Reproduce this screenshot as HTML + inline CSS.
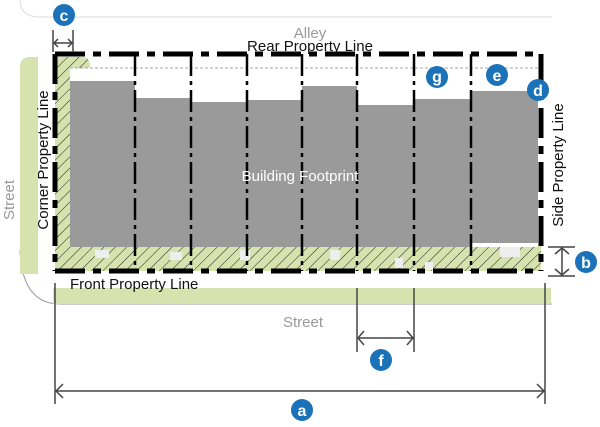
<!DOCTYPE html>
<html><head><meta charset="utf-8"><style>
html,body{margin:0;padding:0;background:#fff;}
svg{display:block;}
text{font-family:"Liberation Sans",sans-serif;}
</style></head><body>
<svg width="600" height="427" viewBox="0 0 600 427" xmlns="http://www.w3.org/2000/svg">
<defs>
<pattern id="h" width="8" height="8" patternUnits="userSpaceOnUse" patternTransform="rotate(45)">
<rect width="8" height="8" fill="#d6e3ae"/>
<line x1="0" y1="0" x2="0" y2="8" stroke="#222" stroke-width="1"/>
</pattern>
</defs>
<path d="M20,0 Q20,17 40,17 L552,17" fill="none" stroke="#ddd" stroke-width="1"/>
<path d="M20,250 Q22,304 60,304 L552,304" fill="none" stroke="#999" stroke-width="1"/>
<path d="M20,68 Q20,57 30,57 L38,57 L38,274 L20,274 Z" fill="#d6e3ae"/>
<rect x="53" y="288" width="498" height="16" fill="#d6e3ae"/>
<path d="M55,57 L82,57 Q90,57 90,66 L90,68 L70,68 L70,247 L538,247 L538,243 L541,243 L541,271 L55,271 Z" fill="url(#h)"/>
<g fill="#9a9a9a">
<rect x="70" y="81" width="65" height="166"/>
<rect x="135" y="98" width="56" height="149"/>
<rect x="191" y="102" width="56" height="145"/>
<rect x="247" y="100" width="55" height="147"/>
<rect x="302" y="86" width="55" height="161"/>
<rect x="357" y="105" width="57" height="142"/>
<rect x="414" y="99" width="57" height="148"/>
<rect x="471" y="91" width="67" height="152"/>
</g>
<g fill="#eee">
<rect x="95" y="250" width="14" height="8"/><rect x="170" y="252" width="12" height="8"/><rect x="240" y="250" width="10" height="10"/>
<rect x="330" y="250" width="10" height="10"/><rect x="395" y="258" width="8" height="10"/><rect x="425" y="262" width="8" height="8"/><rect x="500" y="247" width="20" height="10"/>
</g>
<line x1="70" y1="68" x2="538" y2="68" stroke="#aaa" stroke-width="1" stroke-dasharray="3 2"/>
<g stroke="#000" stroke-width="2.5" stroke-dasharray="22 5 4 5">
<line x1="135" y1="54" x2="135" y2="271"/><line x1="191" y1="54" x2="191" y2="271"/>
<line x1="247" y1="54" x2="247" y2="271"/><line x1="302" y1="54" x2="302" y2="271"/>
<line x1="357" y1="54" x2="357" y2="271"/><line x1="414" y1="54" x2="414" y2="271"/>
<line x1="471" y1="54" x2="471" y2="271"/>
</g>
<g stroke="#000" stroke-width="5" fill="none" stroke-dasharray="30 8 8 8">
<line x1="55" y1="54" x2="541" y2="54"/>
<line x1="55" y1="271" x2="541" y2="271"/>
<line x1="55" y1="54" x2="55" y2="271"/>
<line x1="541" y1="54" x2="541" y2="271"/>
</g>
<g stroke="#444" stroke-width="1.5" fill="none">
<line x1="55" y1="283" x2="55" y2="404"/><line x1="545" y1="283" x2="545" y2="404"/>
<line x1="56" y1="391" x2="544" y2="391"/>
<path d="M63,384 L56,391 L63,398 M537,384 L544,391 L537,398"/>
<line x1="357" y1="288" x2="357" y2="352"/><line x1="414" y1="288" x2="414" y2="352"/>
<line x1="358" y1="338" x2="413" y2="338"/>
<path d="M364,331 L358,338 L364,345 M407,331 L413,338 L407,345"/>
<line x1="548" y1="247" x2="575" y2="247"/><line x1="548" y1="276" x2="575" y2="276"/>
<line x1="562" y1="248" x2="562" y2="275"/>
<path d="M555,254 L562,248 L569,254 M555,269 L562,275 L569,269"/>
<line x1="53" y1="30" x2="53" y2="52"/><line x1="73" y1="30" x2="73" y2="52"/>
<line x1="54" y1="43" x2="72" y2="43"/>
<path d="M58,39 L54,43 L58,47 M68,39 L72,43 L68,47"/>
</g>
<text x="310" y="38" font-size="15" fill="#999" text-anchor="middle">Alley</text>
<text x="310" y="51" font-size="15" fill="#111" text-anchor="middle">Rear Property Line</text>
<text x="300" y="181" font-size="15" fill="#fff" text-anchor="middle">Building Footprint</text>
<text x="70" y="289" font-size="15" fill="#111">Front Property Line</text>
<text x="303" y="327" font-size="15" fill="#999" text-anchor="middle">Street</text>
<text transform="translate(48,160) rotate(-90)" font-size="15" fill="#111" text-anchor="middle">Corner Property Line</text>
<text transform="translate(14,200) rotate(-90)" font-size="15" fill="#999" text-anchor="middle">Street</text>
<text transform="translate(563,165) rotate(-90)" font-size="15" fill="#111" text-anchor="middle">Side Property Line</text>
<g fill="#1b72b8">
<circle cx="64" cy="15" r="11"/><circle cx="302" cy="410" r="11"/><circle cx="381" cy="360" r="11"/>
<circle cx="586" cy="262" r="11"/><circle cx="538" cy="90" r="11"/><circle cx="497" cy="75" r="11"/><circle cx="437" cy="77" r="11"/>
</g>
<g fill="#fff" font-size="16" font-weight="bold" text-anchor="middle">
<text x="64" y="21">c</text><text x="302" y="416">a</text><text x="381" y="366">f</text>
<text x="586" y="268">b</text><text x="538" y="96">d</text><text x="497" y="81">e</text><text x="437" y="82">g</text>
</g>
</svg>
</body></html>
